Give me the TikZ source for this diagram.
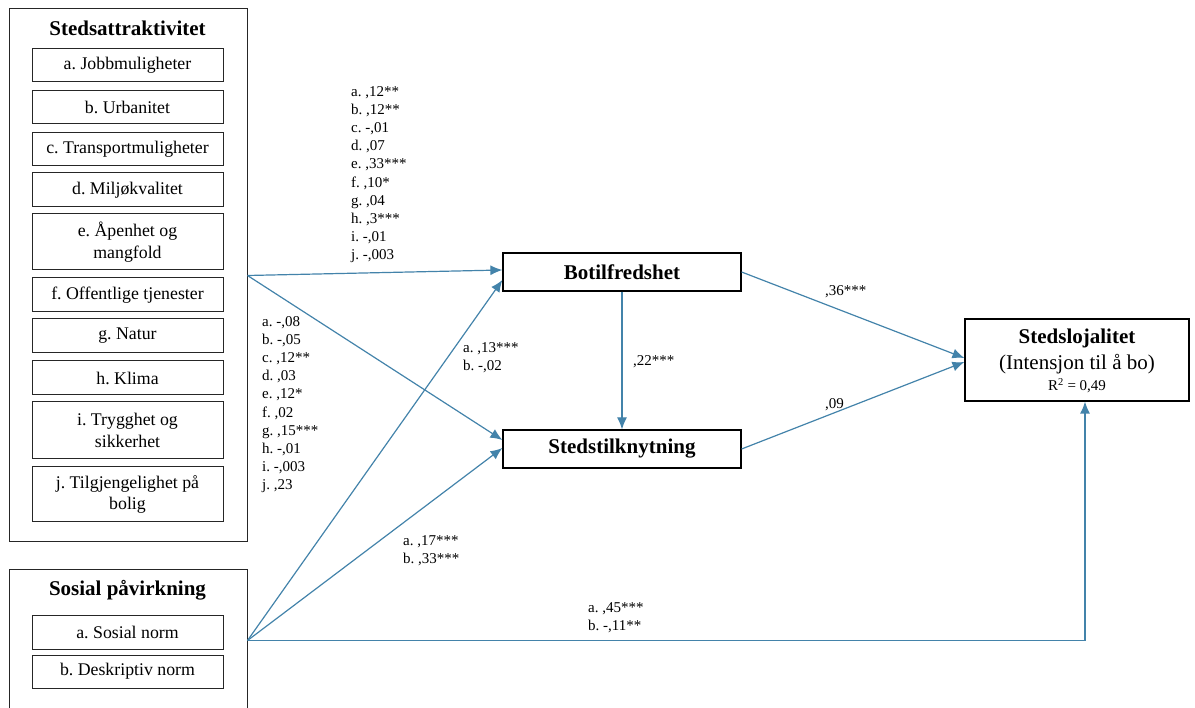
\documentclass[tikz,border=0pt]{standalone}
\usepackage{fontspec}
\setmainfont{Liberation Serif}
\usetikzlibrary{arrows.meta,calc}
\definecolor{arrowblue}{HTML}{4383AA}
\tikzset{
  outerbox/.style={draw=black!85, line width=1pt, inner sep=0pt},
  subbox/.style={draw=black!85, line width=1pt, minimum width=191pt, inner sep=0pt, align=center, font=\fontsize{17.8}{21.5}\selectfont},
  mainbox/.style={draw=black, line width=1.2pt, minimum width=238pt, minimum height=38pt, inner sep=0pt, font=\fontsize{21}{24}\bfseries\selectfont},
  title/.style={inner sep=0pt, font=\fontsize{21}{24}\bfseries\selectfont},
  coef/.style={inner sep=0pt, align=left, anchor=north west, font=\fontsize{15}{18.2}\selectfont},
  arr/.style={draw=arrowblue, line width=1.2pt, -{Latex[length=12pt,width=10pt]}},
}
\begin{document}
\frenchspacing
\begin{tikzpicture}[x=1pt,y=-1pt]
\useasboundingbox (0,0) rectangle (1195,708);
% Stedsattraktivitet
\node[outerbox, minimum width=238pt, minimum height=533pt] (satt) at (128,275.5) {};
\node[title] (sattT) at (127.5,28) {Stedsattraktivitet};
\node[subbox, minimum height=33pt] (sa) at (127.5,65.5) {a. Jobbmuligheter};
\node[subbox, minimum height=33pt] (sb) at (127.5,107.5) {b. Urbanitet};
\node[subbox, minimum height=33pt] (sc) at (127.5,149) {c. Transportmuligheter};
\node[subbox, minimum height=34pt] (sd) at (127.5,190) {d. Miljøkvalitet};
\node[subbox, minimum height=56pt] (se) at (127.5,242) {e. Åpenhet og\\mangfold};
\node[subbox, minimum height=34pt] (sf) at (127.5,295) {f. Offentlige tjenester};
\node[subbox, minimum height=34pt] (sg) at (127.5,336) {g. Natur};
\node[subbox, minimum height=34pt] (sh) at (127.5,378) {h. Klima};
\node[subbox, minimum height=57pt] (si) at (127.5,430.5) {i. Trygghet og\\sikkerhet};
\node[subbox, minimum height=55pt] (sj) at (127.5,494.5) {j. Tilgjengelighet på\\bolig};
% Sosial påvirkning
\node[outerbox, minimum width=238pt, minimum height=143pt] (sosp) at (128,640.5) {};
\node[title] (sospT) at (127.5,590) {Sosial påvirkning};
\node[subbox, minimum height=34pt] (pa) at (127.5,632) {a. Sosial norm};
\node[subbox, minimum height=33pt] (pb) at (127.5,671.5) {b. Deskriptiv norm};
% middle
\node[mainbox] (bot) at (622,272) {Botilfredshet};
\node[mainbox] (sti) at (622,449) {Stedstilknytning};
\node[draw=black, line width=1.2pt, minimum width=224pt, minimum height=82pt, inner sep=0pt] (slo) at (1077,360) {};
\node[title] (sloT) at (1077,338) {Stedslojalitet};
\node[inner sep=0pt, font=\fontsize{21}{24}\selectfont] (sloI) at (1077,364) {(Intensjon til å bo)};
\node[inner sep=0pt, font=\fontsize{15}{18}\selectfont] (sloR) at (1077,386) {R\textsuperscript{2} = 0,49};
% arrows
\draw[arr] (satt.east) -- ([yshift=2pt]bot.west);
\draw[arr] (satt.east) -- ([yshift=9pt]sti.west);
\draw[arr] (sosp.east) -- ([yshift=-8pt]bot.west);
\draw[arr] (sosp.east) -- ([yshift=1pt]sti.west);
\draw[arr] (bot.south) -- (sti.north);
\draw[arr] (bot.east) -- ([yshift=2pt]slo.west);
\draw[arr] (sti.east) -- ([yshift=-2pt]slo.west);
\draw[arr] (sosp.east) -| ([xshift=8pt]slo.south);
% coefficients
\node[coef] (c1) at (351,86) {a. ,12**\\b. ,12**\\c. -,01\\d. ,07\\e. ,33***\\f. ,10*\\g. ,04\\h. ,3***\\i. -,01\\j. -,003};
\node[coef] (c2) at (262,316) {a. -,08\\b. -,05\\c. ,12**\\d. ,03\\e. ,12*\\f. ,02\\g. ,15***\\h. -,01\\i. -,003\\j. ,23};
\node[coef] (c3) at (463,342) {a. ,13***\\b. -,02};
\node[coef] (c4) at (403,535) {a. ,17***\\b. ,33***};
\node[coef] (c5) at (633,355) {,22***};
\node[coef] (c6) at (825,285) {,36***};
\node[coef] (c7) at (825,398) {,09};
\node[coef] (c8) at (588,602) {a. ,45***\\b. -,11**};
\end{tikzpicture}
\end{document}
